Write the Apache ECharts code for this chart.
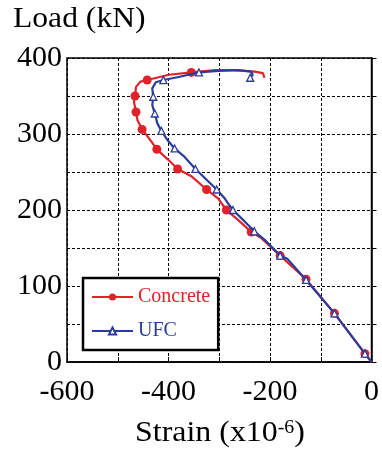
<!DOCTYPE html>
<html>
<head>
<meta charset="utf-8">
<script src="https://cdn.jsdelivr.net/npm/echarts@6/dist/echarts.min.js"></script>
<style>
  html, body { margin: 0; padding: 0; background: #fff; }
  #chart { width: 382px; height: 454px; }
</style>
</head>
<body>
<div id="chart"></div>
<script>
// Load–strain curves of the two specimens (strain in x10^-6, load in kN)
const concreteStrain = [0, -13, -73, -129, -180, -217, -237, -263, -286, -302, -325, -354, -382, -402, -423, -438, -452, -461, -464, -468, -466, -464, -455, -442, -399, -355, -308, -269, -230, -214, -211];
const concreteLoad   = [0, 11, 64, 109, 140, 163, 171, 187, 200, 215, 227, 244, 254, 267, 280, 294, 306, 318, 329, 342, 350, 362, 369, 371, 378, 381, 384, 384, 382, 380, 374];
// indices of the recorded points that carry a marker
const concreteMarked = [1, 2, 3, 4, 6, 8, 10, 12, 14, 16, 18, 20, 23, 25];

const ufcStrain = [0, -13, -73, -129, -166, -180, -211, -231, -250, -273, -283, -289, -305, -347, -370, -388, -401, -414, -422, -427, -432, -430, -432, -425, -410, -380, -340, -302, -263, -237, -234, -239];
const ufcLoad   = [0, 11, 64, 108, 136, 140, 161, 172, 185, 200, 209, 215, 227, 254, 271, 281, 291, 304, 314, 327, 338, 349, 360, 368, 371, 375, 381, 383, 384, 382, 378, 374];
const ufcMarked = [1, 2, 3, 5, 7, 9, 12, 13, 15, 17, 19, 21, 24, 26, 31];

const xTickLabels = [-600, -400, -200, 0];
const yTickLabels = [0, 100, 200, 300, 400];

const seriesNames = ['Concrete', 'UFC'];
const RED = '#e0222b';
const BLUE = '#2a3c9c';
const FONT = 'Liberation Serif';

function buildPoints(xs, ys, marked) {
  return xs.map((x, i) => ({
    value: [x, ys[i]],
    symbol: marked.includes(i) ? undefined : 'none'
  }));
}

const chart = echarts.init(document.getElementById('chart'), null, { renderer: 'canvas' });

chart.setOption({
  animation: false,
  backgroundColor: '#fff',
  grid: {
    left: 67, right: 7, top: 58, bottom: 92,
    show: true, borderColor: '#000', borderWidth: 1.5, backgroundColor: 'transparent'
  },
  // axis titles, slightly widened like the printed typeface
  graphic: [
    {
      type: 'text', x: 13, y: 5, scaleX: 1.09,
      style: {
        text: 'Load (kN)', fontFamily: FONT, fontSize: 29, fill: '#000',
        align: 'left', verticalAlign: 'top'
      }
    },
    {
      type: 'text', x: 220, y: 419, scaleX: 1.1,
      style: {
        text: 'Strain (x10{sup|-6})', fontFamily: FONT, fontSize: 29, fill: '#000',
        align: 'center', verticalAlign: 'top',
        rich: { sup: { fontFamily: FONT, fontSize: 18, fill: '#000', verticalAlign: 'top' } }
      }
    }
  ],
  legend: {
    orient: 'vertical',
    left: 83, top: 278,
    padding: [9, 8, 9, 8],
    itemGap: 14,
    itemWidth: 41, itemHeight: 9,
    itemTextGap: 5,
    backgroundColor: '#fff',
    borderColor: '#000', borderWidth: 2.5, borderRadius: 0,
    textStyle: { fontFamily: FONT, fontSize: 20 },
    data: [
      { name: seriesNames[0], textStyle: { color: RED } },
      { name: seriesNames[1], textStyle: { color: BLUE } }
    ]
  },
  xAxis: {
    type: 'value', min: -600, max: 0, interval: 100,
    axisLine: { lineStyle: { color: '#000', width: 1.5 } },
    axisTick: { show: true, inside: true, length: 5, lineStyle: { color: '#000', width: 1 } },
    axisLabel: {
      margin: 15, fontFamily: FONT, fontSize: 30, color: '#000',
      formatter: v => xTickLabels.includes(v) ? String(v) : ''
    },
    splitLine: { show: true, lineStyle: { color: '#000', width: 1, type: [3, 2] } }
  },
  yAxis: {
    type: 'value', min: 0, max: 400, interval: 50,
    axisLine: { show: true, lineStyle: { color: '#000', width: 1.5 } },
    axisTick: { show: true, inside: true, length: 5, lineStyle: { color: '#000', width: 1 } },
    axisLabel: {
      margin: 5, fontFamily: FONT, fontSize: 30, color: '#000',
      formatter: v => yTickLabels.includes(v) ? String(v) : ''
    },
    splitLine: { show: true, lineStyle: { color: '#000', width: 1, type: [3, 2] } }
  },
  series: [
    {
      name: seriesNames[0], type: 'line',
      data: buildPoints(concreteStrain, concreteLoad, concreteMarked),
      symbol: 'circle', symbolSize: 9,
      lineStyle: { color: RED, width: 2.2 },
      itemStyle: { color: RED },
      z: 2
    },
    {
      name: seriesNames[1], type: 'line',
      data: buildPoints(ufcStrain, ufcLoad, ufcMarked),
      symbol: 'triangle', symbolSize: 7,
      lineStyle: { color: BLUE, width: 2.2 },
      itemStyle: { color: '#fff', borderColor: BLUE, borderWidth: 1.3 },
      z: 3
    }
  ]
});
</script>
</body>
</html>
